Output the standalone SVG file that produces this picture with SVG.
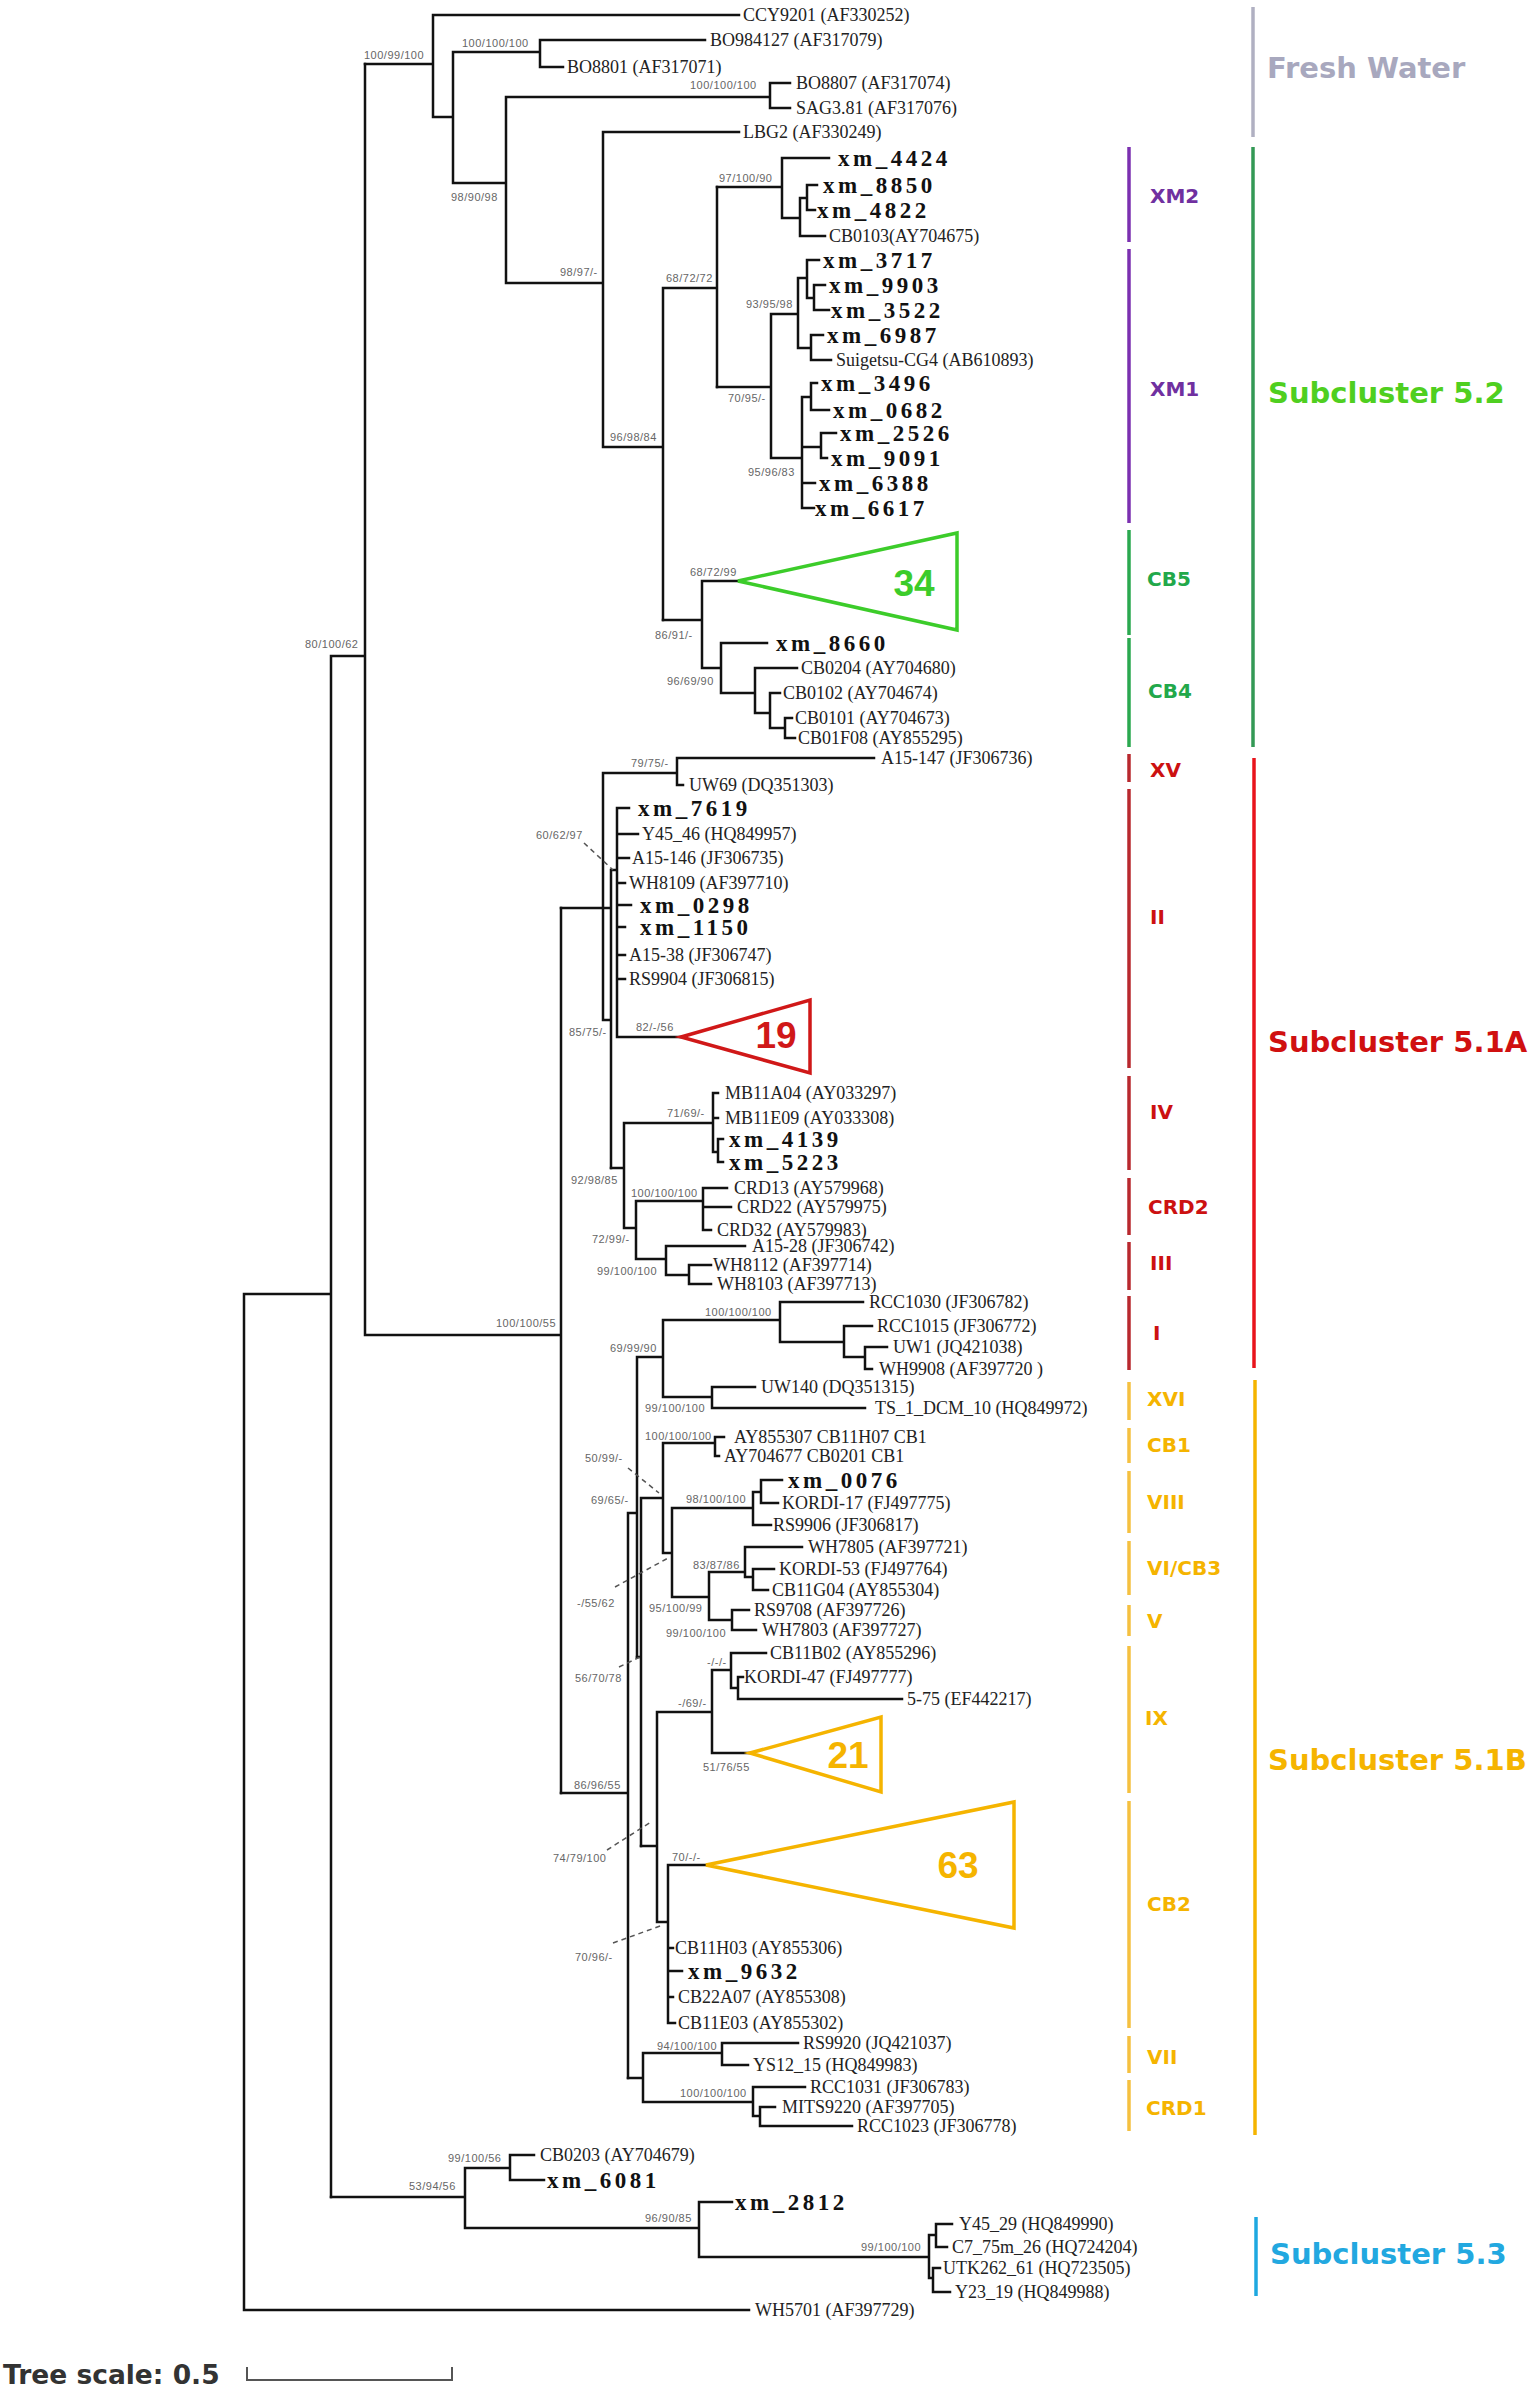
<svg xmlns="http://www.w3.org/2000/svg" width="1535" height="2393" viewBox="0 0 1535 2393">
<style>
.br{fill:none;stroke:#111;stroke-width:2.5;stroke-linecap:square;stroke-linejoin:miter}
.dash{fill:none;stroke:#555;stroke-width:1.5;stroke-dasharray:5 4}
.lf{font-family:"Liberation Serif",serif;font-size:18px;fill:#222;dominant-baseline:central}
.xm{font-family:"Liberation Serif",serif;font-size:23px;font-weight:bold;letter-spacing:3.5px;fill:#111;dominant-baseline:central}
.bs{font-family:"Liberation Sans",sans-serif;font-size:11px;fill:#666;letter-spacing:0.5px;dominant-baseline:central}
.cl{font-family:"DejaVu Sans",sans-serif;font-weight:bold;font-size:20px;dominant-baseline:central}
.big{font-family:"DejaVu Sans",sans-serif;font-weight:bold;font-size:29px;dominant-baseline:central}
.num{font-family:"Liberation Sans",sans-serif;font-size:37px;font-weight:bold;text-anchor:middle;dominant-baseline:central}
.bar{stroke-width:3.5;fill:none}
.tri{fill:#fff;stroke-width:3.5;stroke-linejoin:miter}
.g{fill:#3ccc2a;stroke:#3ccc2a}
.r{fill:#d01818;stroke:#d01818}
.o{fill:#f5b400;stroke:#f5b400}
</style>
<rect width="1535" height="2393" fill="#fff"/>
<g id="connectors">
<path class="br" d="M365,64H433 M433,15V117 M433,15H739 M433,117H453 M453,52V183 M453,52H540 M540,40V67 M540,40H705 M540,67H563 M453,183H506 M506,97V283 M506,97H770 M770,83V108 M770,83H790 M770,108H790 M506,283H603 M603,132V447 M603,132H739 M603,447H663 M663,288V620 M663,288H717 M717,187V387"/>
<path class="br" d="M717,187H782 M782,158V218 M782,158H829 M782,218H800 M800,198V236 M800,198H807 M807,185V210 M807,185H817 M807,210H815 M800,236H825"/>
<path class="br" d="M717,387H771 M771,314V458 M771,314H798 M798,278V348 M798,278H807 M807,260V298 M807,260H819 M807,298H814 M814,285V310 M814,285H825 M814,310H829 M798,348H811 M811,335V360 M811,335H823 M811,360H831 M771,458H802 M802,397V508 M802,397H811 M811,383V410 M811,383H817 M811,410H829 M802,447H821 M821,433V458 M821,433H836 M821,458H827 M802,483H815 M802,508H814"/>
<path class="br" d="M663,620H702 M702,581V668 M702,581H738 M702,668H721 M721,643V693 M721,643H767 M721,693H755 M755,668V713 M755,668H797 M755,713H770 M770,693V728 M770,693H780 M770,728H785 M785,718V738 M785,718H792 M785,738H795"/>
<path class="br" d="M244,1294V2310 M244,1294H331 M244,2310H749 M331,656V2197 M331,656H365 M365,64V1335 M365,1335H561 M561,908V1793"/>
<path class="br" d="M561,908H611 M603,773V1020 M603,773H677 M677,758V785 M677,758H874 M677,785H683 M603,1020H611 M611,870V1168 M611,870H617 M617,808V1037 M617,808H629 M617,834H638 M617,858H629 M617,883H625 M617,905H631 M617,927H625 M617,955H625 M617,979H625 M617,1037H681"/>
<path class="br" d="M611,1168H624 M624,1123V1228 M624,1123H713 M713,1093V1152 M713,1093H718 M713,1118H718 M713,1152H718 M718,1139V1162 M718,1139H723 M718,1162H723 M624,1228H636 M636,1201V1259 M636,1201H703 M703,1188V1230 M703,1188H727 M703,1207H731 M703,1230H711 M636,1259H666 M666,1246V1275 M666,1246H745 M666,1275H689 M689,1265V1284 M689,1265H711 M689,1284H711"/>
<path class="br" d="M561,1793H628 M628,1513V2078 M628,1513H637 M637,1357V1657 M637,1357H663 M663,1320V1397 M663,1320H780 M780,1302V1342 M780,1302H863 M780,1342H844 M844,1326V1357 M844,1326H872 M844,1357H865 M865,1347V1369 M865,1347H887 M865,1369H872 M663,1397H712 M712,1387V1408 M712,1387H755 M712,1408H865"/>
<path class="br" d="M637,1657H641 M641,1498V1846 M641,1498H663 M663,1443V1553 M663,1443H715 M715,1437V1456 M715,1437H724 M715,1456H719 M663,1553H672 M672,1508V1597 M672,1508H753 M753,1492V1525 M753,1492H761 M761,1480V1503 M761,1480H782 M761,1503H778 M753,1525H771 M672,1597H709 M709,1572V1620 M709,1572H745 M745,1547V1577 M745,1547H802 M745,1577H753 M753,1569V1590 M753,1569H774 M753,1590H768 M709,1620H732 M732,1610V1630 M732,1610H749 M732,1630H756"/>
<path class="br" d="M641,1846H657 M657,1712V1922 M657,1712H712 M712,1670V1753 M712,1670H731 M731,1653V1688 M731,1653H766 M731,1688H738 M738,1677V1699 M738,1677H743 M738,1699H902 M712,1753H750 M657,1922H668 M668,1865V2023 M668,1865H706 M668,1948H673 M668,1971H682 M668,1997H673 M668,2023H675"/>
<path class="br" d="M628,2078H643 M643,2053V2102 M643,2053H722 M722,2043V2065 M722,2043H798 M722,2065H748 M643,2102H753 M753,2087V2116 M753,2087H805 M753,2116H760 M760,2107V2126 M760,2107H775 M760,2126H852"/>
<path class="br" d="M331,2197H465 M465,2168V2228 M465,2168H510 M510,2155V2180 M510,2155H534 M510,2180H544 M465,2228H699 M699,2202V2257 M699,2202H732 M699,2257H929 M929,2235V2278 M929,2235H936 M936,2224V2247 M936,2224H952 M936,2247H947 M929,2278H933 M933,2268V2292 M933,2268H940 M933,2292H950"/>
<path class="dash" d="M584,843L613,870 M628,1468L659,1493 M615,1587L670,1557 M619,1667L640,1657 M607,1850L651,1822 M613,1943L663,1925"/>
</g>
<g id="support-values">
<text class="bs" x="364" y="55">100/99/100</text>
<text class="bs" x="462" y="43">100/100/100</text>
<text class="bs" x="451" y="197">98/90/98</text>
<text class="bs" x="690" y="85">100/100/100</text>
<text class="bs" x="560" y="272">98/97/-</text>
<text class="bs" x="719" y="178">97/100/90</text>
<text class="bs" x="666" y="278">68/72/72</text>
<text class="bs" x="746" y="304">93/95/98</text>
<text class="bs" x="728" y="398">70/95/-</text>
<text class="bs" x="748" y="472">95/96/83</text>
<text class="bs" x="610" y="437">96/98/84</text>
<text class="bs" x="690" y="572">68/72/99</text>
<text class="bs" x="655" y="635">86/91/-</text>
<text class="bs" x="667" y="681">96/69/90</text>
<text class="bs" x="305" y="644">80/100/62</text>
<text class="bs" x="631" y="763">79/75/-</text>
<text class="bs" x="536" y="835">60/62/97</text>
<text class="bs" x="636" y="1027">82/-/56</text>
<text class="bs" x="569" y="1032">85/75/-</text>
<text class="bs" x="667" y="1113">71/69/-</text>
<text class="bs" x="571" y="1180">92/98/85</text>
<text class="bs" x="631" y="1193">100/100/100</text>
<text class="bs" x="592" y="1239">72/99/-</text>
<text class="bs" x="597" y="1271">99/100/100</text>
<text class="bs" x="496" y="1323">100/100/55</text>
<text class="bs" x="705" y="1312">100/100/100</text>
<text class="bs" x="610" y="1348">69/99/90</text>
<text class="bs" x="645" y="1408">99/100/100</text>
<text class="bs" x="645" y="1436">100/100/100</text>
<text class="bs" x="585" y="1458">50/99/-</text>
<text class="bs" x="686" y="1499">98/100/100</text>
<text class="bs" x="591" y="1500">69/65/-</text>
<text class="bs" x="693" y="1565">83/87/86</text>
<text class="bs" x="577" y="1603">-/55/62</text>
<text class="bs" x="649" y="1608">95/100/99</text>
<text class="bs" x="666" y="1633">99/100/100</text>
<text class="bs" x="575" y="1678">56/70/78</text>
<text class="bs" x="707" y="1662">-/-/-</text>
<text class="bs" x="678" y="1703">-/69/-</text>
<text class="bs" x="703" y="1767">51/76/55</text>
<text class="bs" x="574" y="1785">86/96/55</text>
<text class="bs" x="553" y="1858">74/79/100</text>
<text class="bs" x="672" y="1857">70/-/-</text>
<text class="bs" x="575" y="1957">70/96/-</text>
<text class="bs" x="657" y="2046">94/100/100</text>
<text class="bs" x="680" y="2093">100/100/100</text>
<text class="bs" x="448" y="2158">99/100/56</text>
<text class="bs" x="409" y="2186">53/94/56</text>
<text class="bs" x="645" y="2218">96/90/85</text>
<text class="bs" x="861" y="2247">99/100/100</text>
</g>
<g id="leaves">
<g id="l1"><text class="lf" x="743" y="15">CCY9201 (AF330252)</text></g>
<g id="l2"><text class="lf" x="710" y="40">BO984127 (AF317079)</text></g>
<g id="l3"><text class="lf" x="567" y="67">BO8801 (AF317071)</text></g>
<g id="l4"><text class="lf" x="796" y="83">BO8807 (AF317074)</text></g>
<g id="l5"><text class="lf" x="796" y="108">SAG3.81 (AF317076)</text></g>
<g id="l6"><text class="lf" x="743" y="132">LBG2 (AF330249)</text></g>
<g id="l7"><text class="xm" x="838" y="158">xm_4424</text></g>
<g id="l8"><text class="xm" x="823" y="185">xm_8850</text></g>
<g id="l9"><text class="xm" x="817" y="210">xm_4822</text></g>
<g id="l10"><text class="lf" x="829" y="236">CB0103(AY704675)</text></g>
<g id="l11"><text class="xm" x="823" y="260">xm_3717</text></g>
<g id="l12"><text class="xm" x="829" y="285">xm_9903</text></g>
<g id="l13"><text class="xm" x="831" y="310">xm_3522</text></g>
<g id="l14"><text class="xm" x="827" y="335">xm_6987</text></g>
<g id="l15"><text class="lf" x="836" y="360">Suigetsu-CG4 (AB610893)</text></g>
<g id="l16"><text class="xm" x="821" y="383">xm_3496</text></g>
<g id="l17"><text class="xm" x="833" y="410">xm_0682</text></g>
<g id="l18"><text class="xm" x="840" y="433">xm_2526</text></g>
<g id="l19"><text class="xm" x="831" y="458">xm_9091</text></g>
<g id="l20"><text class="xm" x="819" y="483">xm_6388</text></g>
<g id="l21"><text class="xm" x="815" y="508">xm_6617</text></g>
<g id="l22"><text class="xm" x="776" y="643">xm_8660</text></g>
<g id="l23"><text class="lf" x="801" y="668">CB0204 (AY704680)</text></g>
<g id="l24"><text class="lf" x="783" y="693">CB0102 (AY704674)</text></g>
<g id="l25"><text class="lf" x="795" y="718">CB0101 (AY704673)</text></g>
<g id="l26"><text class="lf" x="798" y="738">CB01F08 (AY855295)</text></g>
<g id="l27"><text class="lf" x="881" y="758">A15-147 (JF306736)</text></g>
<g id="l28"><text class="lf" x="689" y="785">UW69 (DQ351303)</text></g>
<g id="l29"><text class="xm" x="638" y="808">xm_7619</text></g>
<g id="l30"><text class="lf" x="642" y="834">Y45_46 (HQ849957)</text></g>
<g id="l31"><text class="lf" x="632" y="858">A15-146 (JF306735)</text></g>
<g id="l32"><text class="lf" x="629" y="883">WH8109 (AF397710)</text></g>
<g id="l33"><text class="xm" x="640" y="905">xm_0298</text></g>
<g id="l34"><text class="xm" x="640" y="927">xm_1150</text></g>
<g id="l35"><text class="lf" x="629" y="955">A15-38 (JF306747)</text></g>
<g id="l36"><text class="lf" x="629" y="979">RS9904 (JF306815)</text></g>
<g id="l37"><text class="lf" x="725" y="1093">MB11A04 (AY033297)</text></g>
<g id="l38"><text class="lf" x="725" y="1118">MB11E09 (AY033308)</text></g>
<g id="l39"><text class="xm" x="729" y="1139">xm_4139</text></g>
<g id="l40"><text class="xm" x="729" y="1162">xm_5223</text></g>
<g id="l41"><text class="lf" x="734" y="1188">CRD13 (AY579968)</text></g>
<g id="l42"><text class="lf" x="737" y="1207">CRD22 (AY579975)</text></g>
<g id="l43"><text class="lf" x="717" y="1230">CRD32 (AY579983)</text></g>
<g id="l44"><text class="lf" x="752" y="1246">A15-28 (JF306742)</text></g>
<g id="l45"><text class="lf" x="713" y="1265">WH8112 (AF397714)</text></g>
<g id="l46"><text class="lf" x="717" y="1284">WH8103 (AF397713)</text></g>
<g id="l47"><text class="lf" x="869" y="1302">RCC1030 (JF306782)</text></g>
<g id="l48"><text class="lf" x="877" y="1326">RCC1015 (JF306772)</text></g>
<g id="l49"><text class="lf" x="893" y="1347">UW1 (JQ421038)</text></g>
<g id="l50"><text class="lf" x="879" y="1369">WH9908 (AF397720 )</text></g>
<g id="l51"><text class="lf" x="761" y="1387">UW140 (DQ351315)</text></g>
<g id="l52"><text class="lf" x="875" y="1408">TS_1_DCM_10 (HQ849972)</text></g>
<g id="l53"><text class="lf" x="734" y="1437">AY855307 CB11H07 CB1</text></g>
<g id="l54"><text class="lf" x="724" y="1456">AY704677 CB0201 CB1</text></g>
<g id="l55"><text class="xm" x="788" y="1480">xm_0076</text></g>
<g id="l56"><text class="lf" x="782" y="1503">KORDI-17 (FJ497775)</text></g>
<g id="l57"><text class="lf" x="773" y="1525">RS9906 (JF306817)</text></g>
<g id="l58"><text class="lf" x="808" y="1547">WH7805 (AF397721)</text></g>
<g id="l59"><text class="lf" x="779" y="1569">KORDI-53 (FJ497764)</text></g>
<g id="l60"><text class="lf" x="772" y="1590">CB11G04 (AY855304)</text></g>
<g id="l61"><text class="lf" x="754" y="1610">RS9708 (AF397726)</text></g>
<g id="l62"><text class="lf" x="762" y="1630">WH7803 (AF397727)</text></g>
<g id="l63"><text class="lf" x="770" y="1653">CB11B02 (AY855296)</text></g>
<g id="l64"><text class="lf" x="744" y="1677">KORDI-47 (FJ497777)</text></g>
<g id="l65"><text class="lf" x="907" y="1699">5-75 (EF442217)</text></g>
<g id="l66"><text class="lf" x="675" y="1948">CB11H03 (AY855306)</text></g>
<g id="l67"><text class="xm" x="688" y="1971">xm_9632</text></g>
<g id="l68"><text class="lf" x="678" y="1997">CB22A07 (AY855308)</text></g>
<g id="l69"><text class="lf" x="678" y="2023">CB11E03 (AY855302)</text></g>
<g id="l70"><text class="lf" x="803" y="2043">RS9920 (JQ421037)</text></g>
<g id="l71"><text class="lf" x="753" y="2065">YS12_15 (HQ849983)</text></g>
<g id="l72"><text class="lf" x="810" y="2087">RCC1031 (JF306783)</text></g>
<g id="l73"><text class="lf" x="782" y="2107">MITS9220 (AF397705)</text></g>
<g id="l74"><text class="lf" x="857" y="2126">RCC1023 (JF306778)</text></g>
<g id="l75"><text class="lf" x="540" y="2155">CB0203 (AY704679)</text></g>
<g id="l76"><text class="xm" x="547" y="2180">xm_6081</text></g>
<g id="l77"><text class="xm" x="735" y="2202">xm_2812</text></g>
<g id="l78"><text class="lf" x="959" y="2224">Y45_29 (HQ849990)</text></g>
<g id="l79"><text class="lf" x="952" y="2247">C7_75m_26 (HQ724204)</text></g>
<g id="l80"><text class="lf" x="943" y="2268">UTK262_61 (HQ723505)</text></g>
<g id="l81"><text class="lf" x="955" y="2292">Y23_19 (HQ849988)</text></g>
<g id="l82"><text class="lf" x="755" y="2310">WH5701 (AF397729)</text></g>
</g>
<g id="collapsed">
<g id="c34"><polygon class="tri g" style="fill:#fff" points="738,581 957,533 957,630"/><text class="num g" style="stroke:none" x="914" y="583">34</text></g>
<g id="c19"><polygon class="tri r" style="fill:#fff" points="681,1037 810,1000 810,1073"/><text class="num r" style="stroke:none" x="776" y="1035">19</text></g>
<g id="c21"><polygon class="tri o" style="fill:#fff" points="750,1753 881,1717 881,1792"/><text class="num o" style="stroke:none" x="848" y="1755">21</text></g>
<g id="c63"><polygon class="tri o" style="fill:#fff" points="706,1865 1014,1802 1014,1928"/><text class="num o" style="stroke:none" x="958" y="1865">63</text></g>
</g>
<g id="clades">
<g id="fresh"><line class="bar" stroke="#b0b0c2" x1="1253" y1="7" x2="1253" y2="137"/><text class="big" fill="#a8a8be" x="1267" y="68">Fresh Water</text></g>
<g id="s52"><line class="bar" stroke="#339955" x1="1253" y1="147" x2="1253" y2="747"/><text class="big" fill="#4fcf20" x="1268" y="393">Subcluster 5.2</text></g>
<g id="s51a"><line class="bar" stroke="#e8141c" x1="1254" y1="758" x2="1254" y2="1368"/><text class="big" fill="#d01010" x="1268" y="1042">Subcluster 5.1A</text></g>
<g id="s51b"><line class="bar" stroke="#f5b400" x1="1255" y1="1380" x2="1255" y2="2135"/><text class="big" fill="#f5b400" x="1268" y="1760">Subcluster 5.1B</text></g>
<g id="s53"><line class="bar" stroke="#1ea8e0" x1="1256" y1="2217" x2="1256" y2="2296"/><text class="big" fill="#22a8e0" x="1270" y="2254">Subcluster 5.3</text></g>
<g id="xm2"><line class="bar" stroke="#7b30b0" x1="1129" y1="147" x2="1129" y2="242"/><text class="cl" fill="#7030a0" x="1150" y="196">XM2</text></g>
<g id="xm1"><line class="bar" stroke="#7b30b0" x1="1129" y1="249" x2="1129" y2="523"/><text class="cl" fill="#7030a0" x="1150" y="389">XM1</text></g>
<g id="cb5"><line class="bar" stroke="#2aa84f" x1="1129" y1="530" x2="1129" y2="635"/><text class="cl" fill="#22a84a" x="1147" y="579">CB5</text></g>
<g id="cb4"><line class="bar" stroke="#2aa84f" x1="1129" y1="638" x2="1129" y2="747"/><text class="cl" fill="#22a84a" x="1148" y="691">CB4</text></g>
<g id="xv"><line class="bar" stroke="#b8282e" x1="1129" y1="754" x2="1129" y2="782"/><text class="cl" fill="#cc1111" x="1150" y="770">XV</text></g>
<g id="ii"><line class="bar" stroke="#b8282e" x1="1129" y1="789" x2="1129" y2="1068"/><text class="cl" fill="#cc1111" x="1150" y="917">II</text></g>
<g id="iv"><line class="bar" stroke="#b8282e" x1="1129" y1="1076" x2="1129" y2="1170"/><text class="cl" fill="#cc1111" x="1150" y="1112">IV</text></g>
<g id="crd2"><line class="bar" stroke="#b8282e" x1="1129" y1="1178" x2="1129" y2="1235"/><text class="cl" fill="#cc1111" x="1148" y="1207">CRD2</text></g>
<g id="iii"><line class="bar" stroke="#b8282e" x1="1129" y1="1242" x2="1129" y2="1290"/><text class="cl" fill="#cc1111" x="1150" y="1263">III</text></g>
<g id="i"><line class="bar" stroke="#b8282e" x1="1129" y1="1296" x2="1129" y2="1370"/><text class="cl" fill="#cc1111" x="1153" y="1333">I</text></g>
<g id="xvi"><line class="bar" stroke="#f5c040" x1="1129" y1="1382" x2="1129" y2="1420"/><text class="cl" fill="#f5b400" x="1147" y="1399">XVI</text></g>
<g id="cb1"><line class="bar" stroke="#f5c040" x1="1129" y1="1428" x2="1129" y2="1463"/><text class="cl" fill="#f5b400" x="1147" y="1445">CB1</text></g>
<g id="viii"><line class="bar" stroke="#f5c040" x1="1129" y1="1471" x2="1129" y2="1533"/><text class="cl" fill="#f5b400" x="1147" y="1502">VIII</text></g>
<g id="vicb3"><line class="bar" stroke="#f5c040" x1="1129" y1="1541" x2="1129" y2="1595"/><text class="cl" fill="#f5b400" x="1147" y="1568">VI/CB3</text></g>
<g id="v"><line class="bar" stroke="#f5c040" x1="1129" y1="1605" x2="1129" y2="1636"/><text class="cl" fill="#f5b400" x="1147" y="1621">V</text></g>
<g id="ix"><line class="bar" stroke="#f5c040" x1="1129" y1="1646" x2="1129" y2="1793"/><text class="cl" fill="#f5b400" x="1145" y="1718">IX</text></g>
<g id="cb2"><line class="bar" stroke="#f5c040" x1="1129" y1="1801" x2="1129" y2="2028"/><text class="cl" fill="#f5b400" x="1147" y="1904">CB2</text></g>
<g id="vii"><line class="bar" stroke="#f5c040" x1="1129" y1="2036" x2="1129" y2="2073"/><text class="cl" fill="#f5b400" x="1147" y="2057">VII</text></g>
<g id="crd1"><line class="bar" stroke="#f5c040" x1="1129" y1="2080" x2="1129" y2="2131"/><text class="cl" fill="#f5b400" x="1146" y="2108">CRD1</text></g>
</g>
<g id="scale">
<text x="3" y="2374" style="font-family:'DejaVu Sans',sans-serif;font-weight:bold;font-size:26.5px;fill:#333;dominant-baseline:central">Tree scale: 0.5</text>
<path d="M247,2367V2380H452V2367" fill="none" stroke="#555" stroke-width="2"/>
</g>
</svg>
